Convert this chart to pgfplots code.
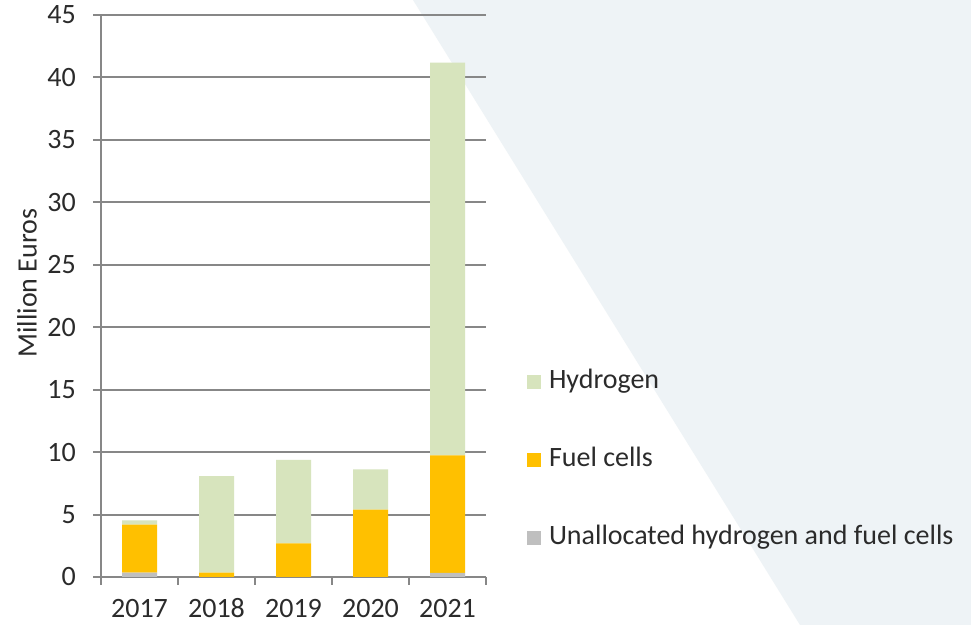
\documentclass[border=0pt]{standalone}
\usepackage{fontspec}
\setmainfont{Carlito}
\usepackage{pgfplots}
\pgfplotsset{compat=1.18}
\definecolor{hyd}{HTML}{D7E4BD}
\definecolor{fc}{HTML}{FFC000}
\definecolor{ua}{HTML}{BFBFBF}
\definecolor{bgp}{HTML}{EEF3F6}
\definecolor{gridc}{HTML}{878787}
\definecolor{txt}{HTML}{2B2B2B}
\begin{document}
\begin{tikzpicture}[x=1bp,y=1bp]
\useasboundingbox (0,0) rectangle (971,625);
\fill[white] (0,0) rectangle (971,625);
\fill[bgp] (413,625) -- (971,625) -- (971,0) -- (800,0) -- cycle;
\begin{axis}[
  at={(101bp,48bp)}, anchor=south west,
  scale only axis, width=385bp, height=562bp,
  ybar stacked, bar width=35bp,
  xmin=-0.5, xmax=4.5, ymin=0, ymax=45,
  ytick={0,5,...,45},
  xtick={0,1,2,3,4}, xticklabels={2017,2018,2019,2020,2021},
  minor xtick={-0.5,0.5,1.5,2.5,3.5,4.5},
  major x tick style={draw=none},
  tick align=outside, major tick length=8bp, minor tick length=8bp,
  axis x line*=bottom, axis y line*=left,
  axis line style={gridc, line width=2bp, -},
  tick style={gridc, line width=2bp},
  ymajorgrids, grid style={gridc, line width=2bp},
  font=\fontsize{28bp}{32bp}\selectfont,
  /pgf/number format/assume math mode=true,
  yticklabel style={txt, anchor=east, inner sep=0pt, xshift=-17bp},
  xticklabel style={txt, anchor=north, inner sep=0pt, text height=17bp, text depth=0bp, yshift=-15bp},
  ylabel={Million Euros},
  ylabel style={at={(axis description cs:-0.192,0.523)}, anchor=center, txt},
  legend image code/.code={\fill[#1] (0bp,-7bp) rectangle (14bp,7bp);},
  reverse legend,
  legend cell align=left,
  legend style={at={(axis description cs:1.106,0.208)}, anchor=west,
    draw=none, fill=none, inner sep=0pt, row sep=55bp, column sep=8bp,
    nodes={inner sep=0pt, text height=18bp, text depth=5bp, anchor=west, text=txt}},
]
\addplot[fill=ua, draw=none] coordinates {(0,0.35) (1,0) (2,0) (3,0) (4,0.33)};
\addlegendentry{Unallocated hydrogen and fuel cells}
\addplot[fill=fc, draw=none] coordinates {(0,3.85) (1,0.35) (2,2.7) (3,5.39) (4,9.4)};
\addlegendentry{Fuel cells}
\addplot[fill=hyd, draw=none] coordinates {(0,0.33) (1,7.73) (2,6.68) (3,3.23) (4,31.45)};
\addlegendentry{Hydrogen}
\end{axis}
\end{tikzpicture}
\end{document}
